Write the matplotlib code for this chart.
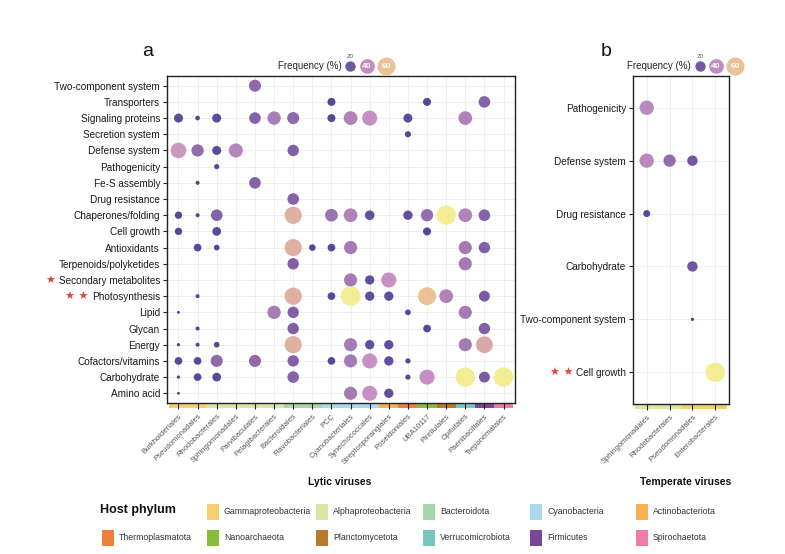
import matplotlib
matplotlib.use('Agg')
import matplotlib.pyplot as plt
import numpy as np
from matplotlib.colors import LinearSegmentedColormap, Normalize
from matplotlib.patches import Rectangle
import matplotlib.transforms as mtransforms

plt.rcParams['font.family'] = ['Liberation Sans', 'DejaVu Sans']

# ---------------- data ----------------
lytic_orders = ["Burkholderiales", "Pseudomonadales", "Rhodobacterales", "Sphingomonadales",
                "Parvibaculales", "Pelagibacterales", "Bacteroidales", "Flavobacteriales", "PCC",
                "Cyanobacteriales", "Synechococcales", "Streptosporangiales", "Poseidoniales",
                "UBA10117", "Pirellulales", "Opitutales", "Paenibacillales", "Treponematales"]
lytic_phyla = ["Gammaproteobacteria", "Gammaproteobacteria", "Alphaproteobacteria", "Alphaproteobacteria",
               "Alphaproteobacteria", "Alphaproteobacteria", "Bacteroidota", "Bacteroidota", "Cyanobacteria",
               "Cyanobacteria", "Cyanobacteria", "Actinobacteriota", "Thermoplasmatota", "Nanoarchaeota",
               "Planctomycetota", "Verrucomicrobiota", "Firmicutes", "Spirochaetota"]

functions_a = ["Two-component system", "Transporters", "Signaling proteins", "Secretion system",
               "Defense system", "Pathogenicity", "Fe-S assembly", "Drug resistance",
               "Chaperones/folding", "Cell growth", "Antioxidants", "Terpenoids/polyketides",
               "Secondary metabolites", "Photosynthesis", "Lipid", "Glycan", "Energy",
               "Cofactors/vitamins", "Carbohydrate", "Amino acid"]

# frequency (%) per lytic host order (0 = absent)
two_component = [0, 0, 0, 0, 27, 0, 0, 0, 0, 0, 0, 0, 0, 0, 0, 0, 0, 0]
transporters = [0, 0, 0, 0, 0, 0, 0, 0, 12, 0, 0, 0, 0, 12, 0, 0, 25, 0]
signaling = [15, 4, 15, 0, 25, 33, 27, 0, 12, 35, 42, 0, 15, 0, 0, 35, 0, 0]
secretion = [0, 0, 0, 0, 0, 0, 0, 0, 0, 0, 0, 0, 7, 0, 0, 0, 0, 0]
defense = [45, 28, 15, 37, 0, 0, 24, 0, 0, 0, 0, 0, 0, 0, 0, 0, 0, 0]
pathogenicity = [0, 0, 5, 0, 0, 0, 0, 0, 0, 0, 0, 0, 0, 0, 0, 0, 0, 0]
fes_assembly = [0, 3, 0, 0, 25, 0, 0, 0, 0, 0, 0, 0, 0, 0, 0, 0, 0, 0]
drug_resistance = [0, 0, 0, 0, 0, 0, 25, 0, 0, 0, 0, 0, 0, 0, 0, 0, 0, 0]
chaperones = [10, 3, 25, 0, 0, 0, 55, 0, 30, 35, 17, 0, 16, 28, 70, 35, 25, 0]
cell_growth = [10, 0, 14, 0, 0, 0, 0, 0, 0, 0, 0, 0, 0, 12, 0, 0, 0, 0]
antioxidants = [0, 11, 6, 0, 0, 0, 55, 8, 11, 32, 0, 0, 0, 0, 0, 32, 24, 0]
terpenoids = [0, 0, 0, 0, 0, 0, 24, 0, 0, 0, 0, 0, 0, 0, 0, 32, 0, 0]
secondary = [0, 0, 0, 0, 0, 0, 0, 0, 0, 32, 16, 42, 0, 0, 0, 0, 0, 0]
photosynthesis = [0, 3, 0, 0, 0, 0, 55, 0, 11, 70, 16, 16, 0, 60, 35, 0, 22, 0]
lipid = [1.5, 0, 0, 0, 0, 33, 24, 0, 0, 0, 0, 0, 6, 0, 0, 32, 0, 0]
glycan = [0, 3, 0, 0, 0, 0, 24, 0, 0, 0, 0, 0, 0, 11, 0, 0, 24, 0]
energy = [2, 3, 6, 0, 0, 0, 55, 0, 0, 32, 16, 16, 0, 0, 0, 32, 52, 0]
cofactors = [11, 11, 27, 0, 27, 0, 24, 0, 11, 32, 42, 16, 5, 0, 0, 0, 0, 0]
carbohydrate = [2, 11, 14, 0, 0, 0, 25, 0, 0, 0, 0, 0, 5, 42, 0, 70, 22, 70]
amino_acid = [1.5, 0, 0, 0, 0, 0, 0, 0, 0, 32, 42, 16, 0, 0, 0, 0, 0, 0]

temperate_orders = ["Sphingomonadales", "Rhodobacterales", "Pseudomonadales", "Enterobacterales"]
temperate_phyla = ["Alphaproteobacteria", "Alphaproteobacteria", "Gammaproteobacteria", "Gammaproteobacteria"]
functions_b = ["Pathogenicity", "Defense system", "Drug resistance", "Carbohydrate",
               "Two-component system", "Cell growth"]
b_pathogenicity = [38, 0, 0, 0]
b_defense = [38, 28, 20, 0]
b_drug = [9, 0, 0, 0]
b_carbohydrate = [0, 0, 20, 0]
b_two_component = [0, 0, 2, 0]
b_cell_growth = [0, 0, 0, 70]

starred_a = {"Secondary metabolites": "★", "Photosynthesis": "★ ★"}
starred_b = {"Cell growth": "★ ★"}

phylum_names = ["Gammaproteobacteria", "Alphaproteobacteria", "Bacteroidota", "Cyanobacteria",
                "Actinobacteriota", "Thermoplasmatota", "Nanoarchaeota", "Planctomycetota",
                "Verrucomicrobiota", "Firmicutes", "Spirochaetota"]
phylum_colors = ["#F6D06F", "#D6E7A6", "#A7D6AA", "#ABD9EA", "#F4B14E", "#EF7F3B",
                 "#88BD3B", "#B87A2B", "#78C6C0", "#7A4796", "#EE7CA8"]
legend_freqs = [20, 40, 60]

# ---------------- styling ----------------
pcol = dict(zip(phylum_names, phylum_colors))
cmap = LinearSegmentedColormap.from_list("freq", [
    (0.00, "#3B3897"), (0.20, "#4B3A92"), (0.34, "#76529F"), (0.47, "#A173B0"),
    (0.60, "#C287BD"), (0.77, "#D9A6A0"), (0.86, "#E9BD8D"), (1.00, "#F3EC8A")])
norm = Normalize(0, 70)
SIZE_K = 2.8

W, H = 785, 554
fig = plt.figure(figsize=(W / 100, H / 100), dpi=100)
fig.patch.set_facecolor("white")


def px_axes(l, t, r, b):
    return fig.add_axes([l / W, 1 - b / H, (r - l) / W, (b - t) / H])


def bubble_panel(ax, orders, phyla, funcs, rows):
    mat = np.array(rows, dtype=float)
    yy, xx = np.nonzero(mat > 0)
    vals = mat[yy, xx]
    order = np.argsort(vals)
    ax.scatter(xx[order], yy[order], s=SIZE_K * vals[order], c=vals[order], cmap=cmap,
               norm=norm, alpha=0.92, linewidths=0, zorder=3)
    nx, ny = len(orders), len(funcs)
    ax.set_xlim(-0.6, nx - 1 + 0.6)
    ax.set_ylim(ny - 1 + 0.6, -0.6)
    ax.set_xticks(range(nx))
    ax.set_xticklabels(orders, rotation=45, ha='right', rotation_mode='anchor',
                       fontsize=5.5, color='#555555')
    ax.set_yticks(range(ny))
    ax.set_yticklabels(funcs, fontsize=7.2, color='#1a1a1a')
    ax.grid(True, color='#EBEBEB', lw=0.6)
    ax.set_axisbelow(True)
    ax.tick_params(axis='y', length=3, width=0.8, pad=2, color='#222222')
    ax.tick_params(axis='x', length=4, width=0.8, pad=3, color='#222222')
    for s in ax.spines.values():
        s.set_linewidth(1.0)
        s.set_color('#222222')
    trans = mtransforms.blended_transform_factory(ax.transData, ax.transAxes)
    bbox_h = ax.get_position().height * H
    sh = 5.0 / bbox_h
    for i, ph in enumerate(phyla):
        ax.add_patch(Rectangle((i - 0.5, -sh), 1.0, sh, transform=trans, clip_on=False,
                               facecolor=pcol[ph], edgecolor='none', zorder=0))


ax_a = px_axes(167, 76, 515, 403)
bubble_panel(ax_a, lytic_orders, lytic_phyla, functions_a,
             [two_component, transporters, signaling, secretion, defense, pathogenicity,
              fes_assembly, drug_resistance, chaperones, cell_growth, antioxidants, terpenoids,
              secondary, photosynthesis, lipid, glycan, energy, cofactors, carbohydrate, amino_acid])

ax_b = px_axes(633, 76, 729, 404)
bubble_panel(ax_b, temperate_orders, temperate_phyla, functions_b,
             [b_pathogenicity, b_defense, b_drug, b_carbohydrate, b_two_component, b_cell_growth])

# overlay in pixel coords
ov = fig.add_axes([0, 0, 1, 1], facecolor='none')
ov.set_xlim(0, W)
ov.set_ylim(H, 0)
ov.axis('off')

ov.text(148, 52, "a", fontsize=14, ha='center', va='center', color='#111111')
ov.text(606, 52, "b", fontsize=14, ha='center', va='center', color='#111111')

# frequency legends
for tx, cx in [(342, [350, 367, 386]), (691, [700, 716, 735])]:
    ov.text(tx, 66, "Frequency (%)", fontsize=7, ha='right', va='center', color='#222222')
    for f, x in zip(legend_freqs, cx):
        ov.scatter([x], [66], s=SIZE_K * f, c=[f], cmap=cmap, norm=norm, alpha=0.92,
                   linewidths=0, clip_on=False)
        if f == legend_freqs[0]:
            ov.text(x, 56, str(f), fontsize=4.5, ha='center', va='center', color='#555555')
        else:
            ov.text(x, 66.5, str(f), fontsize=6, ha='center', va='center', color='white',
                    fontweight='bold')

ov.text(340, 482, "Lytic viruses", fontsize=7.5, fontweight='bold', ha='center', va='center',
        color='#111111')
ov.text(686, 482, "Temperate viruses", fontsize=7.5, fontweight='bold', ha='center', va='center',
        color='#111111')

# host phylum legend
ov.text(100, 510, "Host phylum", fontsize=9, fontweight='bold', ha='left', va='center',
        color='#111111')
legend_slots = [(207, 512), (316, 512), (423, 512), (530, 512), (636, 512),
                (102, 538), (207, 538), (316, 538), (423, 538), (530, 538), (636, 538)]
for name, (x, y) in zip(phylum_names, legend_slots):
    ov.add_patch(Rectangle((x, y - 8), 12, 16, facecolor=pcol[name], edgecolor='none'))
    ov.text(x + 17, y, name, fontsize=6.3, ha='left', va='center', color='#333333')

# red stars before selected labels
fig.canvas.draw()
renderer = fig.canvas.get_renderer()
for ax, starred in [(ax_a, starred_a), (ax_b, starred_b)]:
    for lab in ax.get_yticklabels():
        t = lab.get_text()
        if t in starred:
            bb = lab.get_window_extent(renderer)
            x = bb.x0 - 3
            y = (bb.y0 + bb.y1) / 2
            fig.text(x / fig.bbox.width, y / fig.bbox.height, starred[t], fontsize=8,
                     family='DejaVu Sans', color='#E8423A', ha='right', va='center')

fig.savefig("out.png", dpi=100, facecolor='white')
